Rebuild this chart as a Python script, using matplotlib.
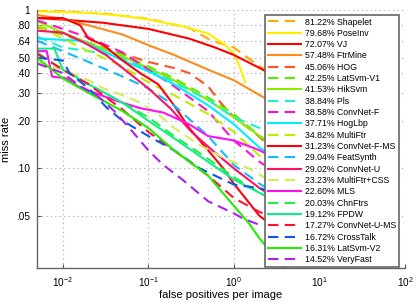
"""Miss rate vs. false positives per image (Caltech-style ROC comparison)."""

import matplotlib

matplotlib.use("Agg")
import matplotlib.pyplot as plt
from matplotlib.ticker import FixedLocator, NullLocator

# ---- data -----------------------------------------------------------------
METHODS = [
    "Shapelet", "PoseInv", "VJ", "FtrMine", "HOG", "LatSvm-V1", "HikSvm", "Pls",
    "ConvNet-F", "HogLbp", "MultiFtr", "ConvNet-F-MS", "FeatSynth", "ConvNet-U",
    "MultiFtr+CSS", "MLS", "ChnFtrs", "FPDW", "ConvNet-U-MS", "CrossTalk",
    "LatSvm-V2", "VeryFast",
]
LOG_AVG_MISS = [
    81.22, 79.68, 72.07, 57.48, 45.06, 42.25, 41.53, 38.84, 38.58, 37.71, 34.82,
    31.23, 29.04, 29.02, 23.23, 22.60, 20.03, 19.12, 17.27, 16.72, 16.31, 14.52,
]

FPPI_SHAPELET = [0.005, 0.01, 0.03, 0.1, 0.3, 0.55, 1.0, 2.0, 5.0]
MR_SHAPELET = [0.99, 0.98, 0.95, 0.88, 0.77, 0.64, 0.58, 0.44, 0.33]

FPPI_POSEINV = [0.005, 0.02, 0.05, 0.1, 0.25, 0.5, 0.8, 1.0, 1.15, 1.35]
MR_POSEINV = [0.98, 0.96, 0.92, 0.87, 0.79, 0.71, 0.60, 0.53, 0.45, 0.35]

FPPI_VJ = [0.005, 0.01, 0.03, 0.1, 0.3, 0.6, 1.0, 2.0, 5.0]
MR_VJ = [0.89, 0.87, 0.83, 0.76, 0.66, 0.58, 0.52, 0.43, 0.33]

FPPI_FTRMINE = [0.005, 0.01, 0.02, 0.05, 0.1, 0.2, 0.5, 1.0, 2.0, 5.0]
MR_FTRMINE = [0.93, 0.88, 0.80, 0.70, 0.60, 0.52, 0.42, 0.36, 0.29, 0.22]

FPPI_HOG = [0.005, 0.01, 0.02, 0.05, 0.1, 0.2, 0.3, 0.5, 0.7, 1.0, 1.7, 3.0, 6.0]
MR_HOG = [0.78, 0.70, 0.62, 0.53, 0.47, 0.43, 0.40, 0.33, 0.26, 0.21, 0.17, 0.13, 0.10]

FPPI_LATSVM1 = [0.005, 0.01, 0.02, 0.05, 0.1, 0.2, 0.5, 1.0, 2.0, 5.0]
MR_LATSVM1 = [0.80, 0.70, 0.62, 0.52, 0.44, 0.37, 0.28, 0.22, 0.16, 0.11]

FPPI_HIKSVM = [0.005, 0.01, 0.02, 0.05, 0.1, 0.2, 0.5, 1.0, 2.0, 5.0]
MR_HIKSVM = [0.85, 0.72, 0.62, 0.51, 0.43, 0.36, 0.27, 0.21, 0.16, 0.12]

FPPI_PLS = [0.005, 0.01, 0.02, 0.04, 0.1, 0.2, 0.5, 1.0, 2.0, 5.0]
MR_PLS = [0.68, 0.58, 0.55, 0.52, 0.42, 0.35, 0.27, 0.21, 0.18, 0.14]

FPPI_CONVNET_F = [0.005, 0.01, 0.02, 0.05, 0.1, 0.2, 0.5, 1.0, 2.0, 5.0]
MR_CONVNET_F = [0.86, 0.76, 0.67, 0.54, 0.42, 0.33, 0.23, 0.15, 0.11, 0.08]

FPPI_HOGLBP = [0.005, 0.016, 0.03, 0.05, 0.1, 0.2, 0.5, 1.0, 2.0, 5.0]
MR_HOGLBP = [0.66, 0.64, 0.55, 0.48, 0.41, 0.34, 0.25, 0.19, 0.135, 0.10]

FPPI_MULTIFTR = [0.005, 0.01, 0.02, 0.05, 0.1, 0.2, 0.5, 1.0, 2.0, 5.0]
MR_MULTIFTR = [0.80, 0.66, 0.55, 0.44, 0.35, 0.29, 0.22, 0.17, 0.12, 0.09]

FPPI_CONVNET_F_MS = [0.005, 0.01, 0.016, 0.02, 0.03, 0.05, 0.08, 0.13, 0.2, 0.3,
                     0.5, 0.75, 1.0, 2.0, 5.0]
MR_CONVNET_F_MS = [0.89, 0.89, 0.80, 0.66, 0.60, 0.48, 0.40, 0.34, 0.25, 0.18,
                   0.13, 0.10, 0.08, 0.05, 0.035]

FPPI_FEATSYNTH = [0.005, 0.01, 0.02, 0.05, 0.1, 0.2, 0.5, 1.0, 2.0, 5.0]
MR_FEATSYNTH = [0.64, 0.55, 0.47, 0.38, 0.32, 0.25, 0.16, 0.105, 0.08, 0.06]

FPPI_CONVNET_U = [0.005, 0.01, 0.018, 0.032, 0.056, 0.1, 0.18, 0.32, 0.56, 1.0, 2.0, 5.0]
MR_CONVNET_U = [0.74, 0.72, 0.62, 0.52, 0.41, 0.32, 0.24, 0.17, 0.13, 0.10, 0.075, 0.055]

FPPI_MULTIFTR_CSS = [0.005, 0.01, 0.02, 0.03, 0.05, 0.08, 0.13, 0.2, 0.4, 0.8, 1.5, 3.0, 6.0]
MR_MULTIFTR_CSS = [0.47, 0.42, 0.36, 0.32, 0.29, 0.26, 0.22, 0.18, 0.14, 0.115, 0.10, 0.08, 0.065]

FPPI_MLS = [0.005, 0.0065, 0.0075, 0.011, 0.015, 0.02, 0.04, 0.08, 0.15, 0.3, 0.5, 1.0, 2.0, 5.0]
MR_MLS = [0.55, 0.55, 0.38, 0.37, 0.33, 0.31, 0.27, 0.24, 0.225, 0.19, 0.16, 0.15, 0.13, 0.10]

FPPI_CHNFTRS = [0.005, 0.01, 0.02, 0.05, 0.1, 0.2, 0.5, 1.0, 2.0, 5.0]
MR_CHNFTRS = [0.54, 0.42, 0.34, 0.26, 0.21, 0.16, 0.115, 0.088, 0.07, 0.055]

FPPI_FPDW = [0.005, 0.008, 0.01, 0.02, 0.05, 0.1, 0.2, 0.5, 1.0, 2.0, 5.0]
MR_FPDW = [0.57, 0.57, 0.42, 0.34, 0.26, 0.20, 0.155, 0.11, 0.085, 0.07, 0.055]

FPPI_CONVNET_U_MS = [0.005, 0.01, 0.02, 0.05, 0.1, 0.2, 0.5, 1.0, 2.0, 5.0]
MR_CONVNET_U_MS = [0.53, 0.42, 0.34, 0.235, 0.17, 0.13, 0.09, 0.065, 0.053, 0.045]

FPPI_CROSSTALK = [0.005, 0.01, 0.012, 0.02, 0.033, 0.05, 0.1, 0.2, 0.4, 1.0, 2.0, 5.0]
MR_CROSSTALK = [0.50, 0.48, 0.40, 0.32, 0.24, 0.20, 0.16, 0.13, 0.10, 0.079, 0.075, 0.065]

FPPI_LATSVM2 = [0.005, 0.01, 0.02, 0.05, 0.1, 0.2, 0.5, 1.0, 1.5, 2.0, 3.0, 4.0]
MR_LATSVM2 = [0.50, 0.37, 0.30, 0.23, 0.18, 0.13, 0.09, 0.058, 0.045, 0.036, 0.028, 0.023]

FPPI_VERYFAST = [0.005, 0.01, 0.016, 0.025, 0.04, 0.06, 0.1, 0.15, 0.25, 0.5, 1.0, 1.3, 2.0]
MR_VERYFAST = [0.46, 0.40, 0.33, 0.29, 0.23, 0.18, 0.13, 0.105, 0.085, 0.062, 0.052, 0.048, 0.044]

Y_TICKS = [0.05, 0.10, 0.20, 0.30, 0.40, 0.50, 0.64, 0.80, 1.0]
Y_TICK_LABELS = [".05", ".10", ".20", ".30", ".40", ".50", ".64", ".80", "1"]
X_TICKS = [1e-2, 1e-1, 1e0, 1e1, 1e2]

# ---- style -----------------------------------------------------------------
COLORS = [
    "#FFAA00", "#FFEE00", "#FF0000", "#FF8C1A", "#FF5522", "#55EE00", "#88EE00",
    "#22EECC", "#FF11CC", "#00EEFF", "#BBEE00", "#FF0011", "#11BBFF", "#FF1166",
    "#D4EE55", "#FF11EE", "#22EE44", "#11EE88", "#FF1133", "#1155EE", "#22EE00",
    "#AA22EE",
]
DASHED = [
    True, False, False, False, True, True, False, True, True, False, True, False,
    True, False, True, False, True, False, True, True, False, True,
]

CURVES = [
    (FPPI_SHAPELET, MR_SHAPELET), (FPPI_POSEINV, MR_POSEINV), (FPPI_VJ, MR_VJ),
    (FPPI_FTRMINE, MR_FTRMINE), (FPPI_HOG, MR_HOG), (FPPI_LATSVM1, MR_LATSVM1),
    (FPPI_HIKSVM, MR_HIKSVM), (FPPI_PLS, MR_PLS), (FPPI_CONVNET_F, MR_CONVNET_F),
    (FPPI_HOGLBP, MR_HOGLBP), (FPPI_MULTIFTR, MR_MULTIFTR),
    (FPPI_CONVNET_F_MS, MR_CONVNET_F_MS), (FPPI_FEATSYNTH, MR_FEATSYNTH),
    (FPPI_CONVNET_U, MR_CONVNET_U), (FPPI_MULTIFTR_CSS, MR_MULTIFTR_CSS),
    (FPPI_MLS, MR_MLS), (FPPI_CHNFTRS, MR_CHNFTRS), (FPPI_FPDW, MR_FPDW),
    (FPPI_CONVNET_U_MS, MR_CONVNET_U_MS), (FPPI_CROSSTALK, MR_CROSSTALK),
    (FPPI_LATSVM2, MR_LATSVM2), (FPPI_VERYFAST, MR_VERYFAST),
]

plt.rcParams["font.family"] = ["Liberation Sans", "DejaVu Sans"]
plt.rcParams["mathtext.fontset"] = "custom"
plt.rcParams["mathtext.rm"] = "Liberation Sans"

fig = plt.figure(figsize=(4.15, 3.03), dpi=100)
ax = fig.add_axes([0.0892, 0.1155, 0.8867, 0.8515])

for (fppi, miss), name, score, color, dashed in zip(CURVES, METHODS, LOG_AVG_MISS, COLORS, DASHED):
    line, = ax.plot(fppi, miss, color=color, linewidth=1.5,
                    label=f"{score:.2f}% {name}")
    if dashed:
        line.set_dashes((5, 3))

ax.set_xscale("log")
ax.set_yscale("log")
ax.set_xlim(0.005, 100)
ax.set_ylim(0.0235, 1.0)

ax.xaxis.set_major_locator(FixedLocator(X_TICKS))
ax.xaxis.set_minor_locator(NullLocator())
ax.yaxis.set_major_locator(FixedLocator(Y_TICKS))
ax.yaxis.set_minor_locator(NullLocator())
ax.set_yticklabels(Y_TICK_LABELS)

ax.grid(True, which="major", color="#AAAAAA", linestyle=(0, (1, 3)), linewidth=0.8)
ax.tick_params(direction="in", length=3, width=0.8, color="#555555",
               labelsize=7.2, pad=5)
for side in ("top", "right"):
    ax.spines[side].set_visible(False)
for side in ("left", "bottom"):
    ax.spines[side].set_color("#666666")
    ax.spines[side].set_linewidth(1.0)

ax.set_xlabel("false positives per image", fontsize=8, labelpad=1)
ax.set_ylabel("miss rate", fontsize=8, labelpad=4)

legend = ax.legend(loc="upper right", bbox_to_anchor=(0.984, 0.981), borderaxespad=0,
                   fontsize=6.3, handlelength=3.8, handletextpad=0.5, labelspacing=0.265,
                   borderpad=0.3, fancybox=False, framealpha=1.0, edgecolor="#666666")
legend.get_frame().set_linewidth(1.2)

fig.savefig("out.png", dpi=100)
plt.close(fig)
